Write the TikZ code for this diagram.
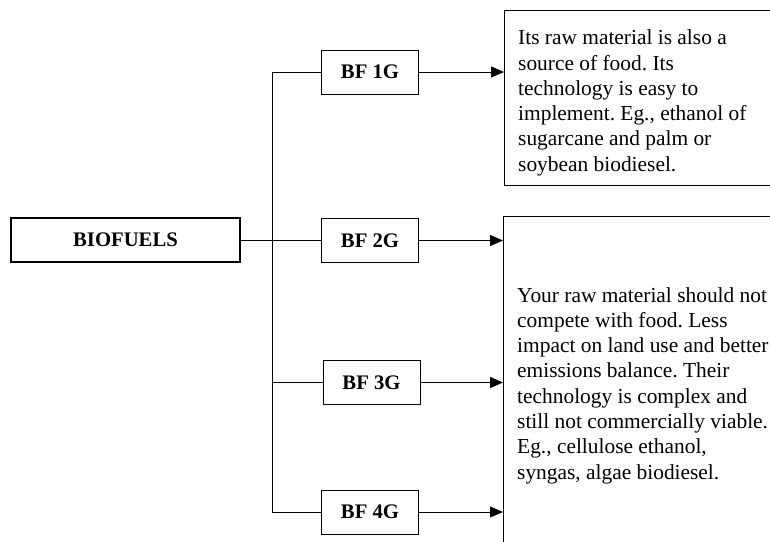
\documentclass[tikz,border=0pt]{standalone}
\usepackage{fontspec}
\setmainfont{Liberation Serif}
\frenchspacing
\usetikzlibrary{positioning, arrows.meta}

\begin{document}
\begin{tikzpicture}[x=1pt, y=-1pt,
    gen/.style={draw, line width=1pt, minimum width=97pt, minimum height=44pt, inner sep=0pt,
        font=\fontsize{20.7}{24}\selectfont\bfseries},
    descbox/.style={draw, line width=1pt, inner sep=0pt, anchor=north west},
    desctext/.style={inner sep=0pt, anchor=north west, align=left,
        font=\fontsize{21.4}{25.3}\selectfont},
    link/.style={line width=1pt},
    feed/.style={line width=1pt, -{Triangle[length=13pt, width=11pt]}}]
    \clip (0,0) rectangle (770,541);
    \coordinate (bus) at (272,0);
    \node[draw, line width=2pt, minimum width=229pt, minimum height=44pt,
        font=\fontsize{20.7}{24}\selectfont\bfseries] (bio) at (125.5,240) {BIOFUELS};
    \node[gen] (g1) at (370,72) {BF 1G};
    \node[gen] (g2) at (370,240.5) {BF 2G};
    \node[gen] (g3) at (371.5,382.5) {BF 3G};
    \node[gen] (g4) at (370,512) {BF 4G};
    \node[descbox, minimum width=300pt, minimum height=175pt] (d1) at (504,10) {};
    \node[descbox, minimum width=300pt, minimum height=360pt] (d2) at (503,216) {};
    \node[desctext] (t1) at (518,29.7) {Its raw material is also a\\source of food. Its\\technology is easy to\\implement. Eg., ethanol of\\sugarcane and palm or\\soybean biodiesel.};
    \node[desctext] (t2) at (517,287) {Your raw material should not\\compete with food. Less\\impact on land use and better\\emissions balance. Their\\technology is complex and\\still not commercially viable.\\Eg., cellulose ethanol,\\syngas, algae biodiesel.};
    \draw[link] (bio.east) -- (bio.east -| bus);
    \draw[link] (bus |- g1) -- (bus |- g4);
    \foreach \g in {1,...,4}
        \draw[link] (bus |- g\g) -- (g\g.west);
    \foreach \g/\d in {1/d1, 2/d2, 3/d2, 4/d2}
        \draw[feed] (g\g.east) -- (g\g.east -| \d.west);
\end{tikzpicture}
\end{document}
